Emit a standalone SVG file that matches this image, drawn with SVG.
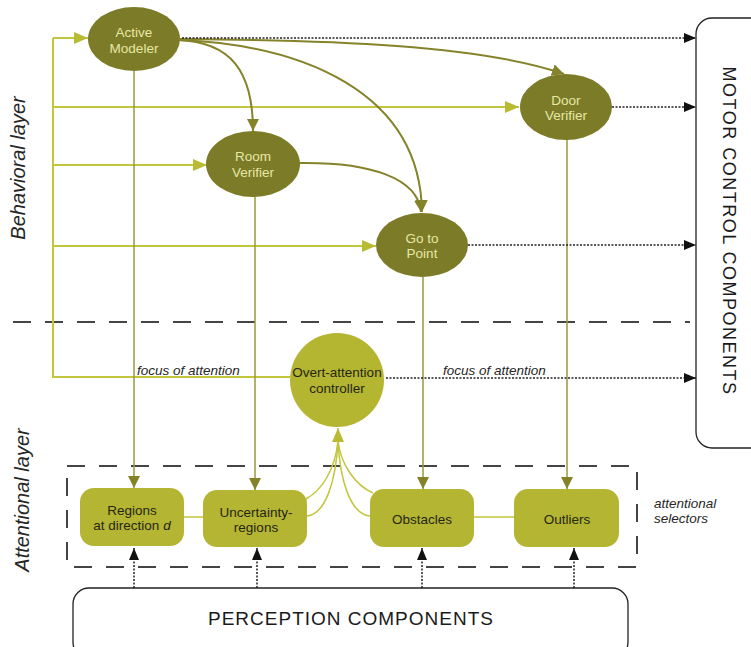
<svg xmlns="http://www.w3.org/2000/svg" width="751" height="647" viewBox="0 0 751 647">
<defs>
<style>
.lt{fill:none;stroke:#c3c53c;stroke-width:2}
.lt2{fill:none;stroke:#c3c53c;stroke-width:1.5}
.ol{fill:none;stroke:#858329;stroke-width:2}
.olv{fill:none;stroke:#9a983c;stroke-width:1.5}
.dot{fill:none;stroke:#222;stroke-width:1.5;stroke-dasharray:2,1.5}
.dash{fill:none;stroke:#444;stroke-width:2;stroke-dasharray:18,14}
.ell{fill:#7c7b28}
.sel{fill:#b4b532}
.wt{font-family:"Liberation Sans",Arial,sans-serif;font-size:13.5px;fill:#e6e8a6;text-anchor:middle}
.dt{font-family:"Liberation Sans",Arial,sans-serif;font-size:13.5px;fill:#262616;text-anchor:middle}
.it{font-family:"Liberation Sans",Arial,sans-serif;font-size:13.5px;font-style:italic;fill:#262626}
.lay{font-family:"Liberation Sans",Arial,sans-serif;font-size:20px;font-style:italic;fill:#262626;text-anchor:middle}
.big{font-family:"Liberation Sans",Arial,sans-serif;fill:#1a1a1a;text-anchor:middle}
</style>
<marker id="aL" markerUnits="userSpaceOnUse" markerWidth="15" markerHeight="12" refX="14" refY="6" orient="auto"><path d="M0,0 L14,6 L0,12 z" fill="#b9bb34"/></marker>
<marker id="aO" markerUnits="userSpaceOnUse" markerWidth="13" markerHeight="12" refX="12" refY="6" orient="auto"><path d="M0,0 L12,6 L0,12 z" fill="#858329"/></marker>
<marker id="aK" markerUnits="userSpaceOnUse" markerWidth="13" markerHeight="10" refX="12" refY="5" orient="auto"><path d="M0,0 L12,5 L0,10 z" fill="#111"/></marker>
</defs>
<rect width="751" height="647" fill="#ffffff"/>

<g id="separators">
<line class="dash" x1="13" y1="322" x2="690" y2="322"/>
<rect id="selector-box" class="dash" x="67" y="466" width="570" height="101"/>
</g>

<g id="labels">
<text class="lay" transform="translate(25,168) rotate(-90)">Behavioral layer</text>
<text class="lay" transform="translate(29,500) rotate(-90)">Attentional layer</text>
<text class="it" x="137" y="375">focus of attention</text>
<text class="it" x="443" y="375">focus of attention</text>
<text class="it" x="654" y="508">attentional</text>
<text class="it" x="654" y="523">selectors</text>
</g>

<g id="connectors">
<!-- light feedback network -->
<path class="lt" d="M290,377 H53 V38"/>
<path class="lt" d="M53,38 H88" marker-end="url(#aL)"/>
<path class="lt" d="M53,107 H519" marker-end="url(#aL)"/>
<path class="lt" d="M53,165 H207" marker-end="url(#aL)"/>
<path class="lt" d="M53,246 H376" marker-end="url(#aL)"/>
<!-- curved olive arrows -->
<path class="ol" d="M180,39 C330,40 480,45 564,74" marker-end="url(#aO)"/>
<path class="ol" d="M180,40 C300,45 420,90 422,212" marker-end="url(#aO)"/>
<path class="ol" d="M178,40 C230,42 253,70 253,131" marker-end="url(#aO)"/>
<path class="ol" d="M300,163 C370,162 418,178 421,212" marker-end="url(#aO)"/>
<!-- vertical olive arrows down -->
<path class="olv" d="M134,71 V488" marker-end="url(#aO)"/>
<path class="olv" d="M255,197 V490" marker-end="url(#aO)"/>
<path class="olv" d="M423,277 V489" marker-end="url(#aO)"/>
<path class="olv" d="M567,139 V489" marker-end="url(#aO)"/>
<!-- dotted to motor -->
<path class="dot" d="M182,38 H696" marker-end="url(#aK)"/>
<path class="dot" d="M612,107 H696" marker-end="url(#aK)"/>
<path class="dot" d="M468,245 H696" marker-end="url(#aK)"/>
<path class="dot" d="M386,378 H696" marker-end="url(#aK)"/>
<!-- dotted from perception -->
<path class="dot" d="M134,588 V548" marker-end="url(#aK)"/>
<path class="dot" d="M257,588 V548" marker-end="url(#aK)"/>
<path class="dot" d="M422,588 V548" marker-end="url(#aK)"/>
<path class="dot" d="M574,588 V548" marker-end="url(#aK)"/>
<!-- selector links -->
<path class="lt2" d="M184,517 H203"/>
<path class="lt2" d="M474,517 H514"/>
<path class="lt2" d="M306,499 C322,490 335,470 338,441"/>
<path class="lt2" d="M307,516 C326,514 336,480 338,441"/>
<path class="lt2" d="M373,493 C355,485 341,465 338,441"/>
<path class="lt2" d="M370,516 C350,514 340,480 338,441"/>
<path class="lt2" d="M338,443 V428" marker-end="url(#aL)"/>
</g>

<g id="active-modeler">
<ellipse class="ell" cx="134" cy="39" rx="46" ry="32"/>
<text class="wt" x="134" y="37">Active</text>
<text class="wt" x="134" y="53">Modeler</text>
</g>
<g id="room-verifier">
<ellipse class="ell" cx="253" cy="164" rx="47" ry="33"/>
<text class="wt" x="253" y="161">Room</text>
<text class="wt" x="253" y="177">Verifier</text>
</g>
<g id="go-to-point">
<ellipse class="ell" cx="422" cy="245" rx="46" ry="32"/>
<text class="wt" x="422" y="243">Go to</text>
<text class="wt" x="422" y="258">Point</text>
</g>
<g id="door-verifier">
<ellipse class="ell" cx="566" cy="107" rx="46" ry="33"/>
<text class="wt" x="566" y="105">Door</text>
<text class="wt" x="566" y="120">Verifier</text>
</g>
<g id="overt-attention-controller">
<circle cx="337" cy="380" r="47" fill="#b4b531"/>
<text class="dt" x="337" y="377">Overt-attention</text>
<text class="dt" x="337" y="393">controller</text>
</g>
<g id="regions-at-direction">
<rect class="sel" x="80" y="488" width="104" height="58" rx="14"/>
<text class="dt" x="132" y="515">Regions</text>
<text class="dt" x="132" y="530">at direction <tspan font-style="italic">d</tspan></text>
</g>
<g id="uncertainty-regions">
<rect class="sel" x="203" y="490" width="104" height="57" rx="14"/>
<text class="dt" x="256" y="517">Uncertainty-</text>
<text class="dt" x="256" y="532">regions</text>
</g>
<g id="obstacles">
<rect class="sel" x="370" y="489" width="104" height="58" rx="14"/>
<text class="dt" x="422" y="524">Obstacles</text>
</g>
<g id="outliers">
<rect class="sel" x="514" y="489" width="105" height="58" rx="14"/>
<text class="dt" x="567" y="524">Outliers</text>
</g>
<g id="motor-control-components">
<rect x="696" y="18" width="80" height="430" rx="16" fill="#fff" stroke="#222" stroke-width="1.3"/>
<text class="big" font-size="18" letter-spacing="1.5" transform="translate(723,231) rotate(90)">MOTOR CONTROL COMPONENTS</text>
</g>
<g id="perception-components">
<rect x="73" y="588" width="555" height="70" rx="16" fill="#fff" stroke="#222" stroke-width="1.3"/>
<text class="big" font-size="19" letter-spacing="1" x="351" y="625">PERCEPTION COMPONENTS</text>
</g>
</svg>
